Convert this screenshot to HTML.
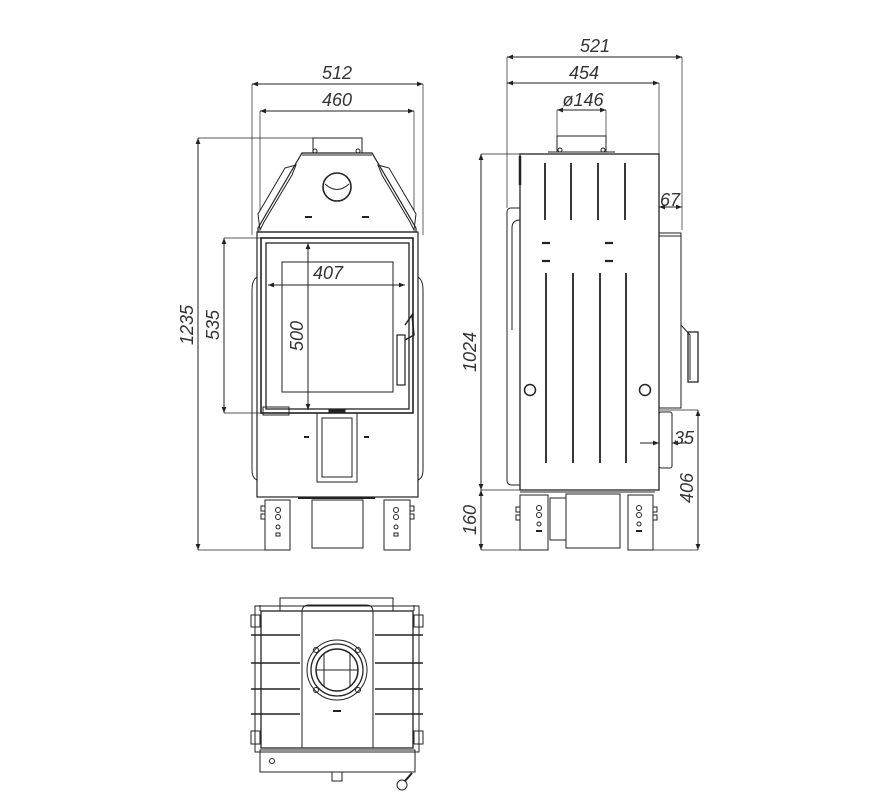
<!DOCTYPE html>
<html><head><meta charset="utf-8"><style>
html,body{margin:0;padding:0;background:#fff;}
svg{display:block;}
text{font-family:"Liberation Sans",sans-serif;font-style:italic;font-size:18px;fill:#333;}
</style></head><body>
<svg width="884" height="800" viewBox="0 0 884 800" xmlns="http://www.w3.org/2000/svg">
<defs>
<marker id="a" viewBox="0 0 10 10" refX="10" refY="5" markerWidth="10" markerHeight="6" orient="auto-start-reverse" markerUnits="userSpaceOnUse"><path d="M0,1 L10,5 L0,9 z" fill="#222"/></marker>
</defs>
<g stroke="#222" stroke-width="1" fill="none">
<line x1="252" y1="84" x2="252" y2="235" stroke-width="0.7"/>
<line x1="423" y1="84" x2="423" y2="235" stroke-width="0.7"/>
<line x1="260" y1="111" x2="260" y2="210" stroke-width="0.7"/>
<line x1="414" y1="111" x2="414" y2="210" stroke-width="0.7"/>
<line x1="252" y1="84" x2="423" y2="84" marker-start="url(#a)" marker-end="url(#a)"/>
<line x1="260" y1="111" x2="414" y2="111" marker-start="url(#a)" marker-end="url(#a)"/>
<line x1="198" y1="138" x2="313" y2="138" stroke-width="0.7"/>
<line x1="198" y1="550" x2="266" y2="550" stroke-width="0.7"/>
<line x1="198" y1="138" x2="198" y2="550" marker-start="url(#a)" marker-end="url(#a)"/>
<line x1="224" y1="238" x2="262" y2="238" stroke-width="0.7"/>
<line x1="224" y1="413" x2="262" y2="413" stroke-width="0.7"/>
<line x1="224" y1="238" x2="224" y2="413" marker-start="url(#a)" marker-end="url(#a)"/>
<line x1="268" y1="285" x2="405" y2="285" marker-start="url(#a)" marker-end="url(#a)"/>
<line x1="308" y1="243" x2="308" y2="410" marker-start="url(#a)" marker-end="url(#a)"/>
<polyline points="313,153 313,138 362,138 362,153"/>
<circle cx="315" cy="151" r="2"/><circle cx="358" cy="151" r="2"/>
<polygon points="302,153 372,153 416,228 416,232 258,232 258,228" stroke-width="1.2"/>
<line x1="302" y1="155" x2="372" y2="155"/>
<path d="M296,165 L285,168 L258,214 L260,230 L264,222 L292,175 Z"/>
<path d="M378,165 L389,168 L416,214 L414,230 L410,222 L382,175 Z"/>
<circle cx="337" cy="187" r="14" stroke-width="1.6"/>
<path d="M325,184 Q337,195 349,184"/>
<line x1="305" y1="217" x2="312" y2="217" stroke-width="2"/>
<line x1="362" y1="217" x2="369" y2="217" stroke-width="2"/>
<rect x="257" y="232" width="161" height="265" stroke-width="1.2"/>
<path d="M257,277 Q252,280 252,290 L252,470 Q252,478 257,480"/>
<path d="M418,277 Q423,280 423,290 L423,470 Q423,478 418,480"/>
<rect x="261" y="238" width="152" height="175" stroke-width="1.6"/>
<rect x="266" y="243" width="143" height="166" stroke-width="1.3"/>
<rect x="282" y="262" width="111" height="130"/>
<rect x="397" y="335" width="8" height="50" stroke-width="1.2"/>
<path d="M405,325 L412,315 L414,335 L405,340" stroke-width="1.5"/>
<rect x="263" y="407" width="26" height="8"/>
<rect x="329" y="410" width="16" height="3" fill="#222"/>
<rect x="317" y="413" width="40" height="69"/>
<rect x="322" y="418" width="30" height="59"/>
<line x1="304" y1="437" x2="309" y2="437" stroke-width="2"/>
<line x1="364" y1="437" x2="369" y2="437" stroke-width="2"/>
<line x1="298" y1="498" x2="375" y2="498" stroke-width="2"/>
<rect x="312" y="500" width="51" height="48"/>
<path d="M265,500 L290,500 L290,550 L265,550 Z"/>
<path d="M384,500 L410,500 L410,550 L384,550 Z"/>
<circle cx="278" cy="510" r="2.5"/><circle cx="278" cy="517" r="2.5"/><circle cx="278" cy="527" r="2"/>
<rect x="276" y="533" width="4" height="3"/>
<circle cx="396" cy="510" r="2.5"/><circle cx="396" cy="517" r="2.5"/><circle cx="396" cy="527" r="2"/>
<rect x="394" y="533" width="4" height="3"/>
<rect x="261" y="506" width="4" height="5"/><rect x="261" y="514" width="4" height="5"/>
<rect x="410" y="506" width="4" height="5"/><rect x="410" y="514" width="4" height="5"/>

<line x1="507" y1="57" x2="507" y2="208" stroke-width="0.7"/>
<line x1="682" y1="57" x2="682" y2="230" stroke-width="0.7"/>
<line x1="659" y1="83" x2="659" y2="154" stroke-width="0.7"/>
<line x1="507" y1="57" x2="682" y2="57" marker-start="url(#a)" marker-end="url(#a)"/>
<line x1="507" y1="83" x2="659" y2="83" marker-start="url(#a)" marker-end="url(#a)"/>
<line x1="557" y1="110" x2="606" y2="110" marker-start="url(#a)" marker-end="url(#a)"/>
<line x1="557" y1="110" x2="557" y2="136" stroke-width="0.7"/>
<line x1="606" y1="110" x2="606" y2="136" stroke-width="0.7"/>
<line x1="659" y1="207" x2="682" y2="207" marker-start="url(#a)" marker-end="url(#a)"/>
<line x1="481" y1="154" x2="520" y2="154" stroke-width="0.7"/>
<line x1="481" y1="490" x2="520" y2="490" stroke-width="0.7"/>
<line x1="481" y1="550" x2="525" y2="550" stroke-width="0.7"/>
<line x1="481" y1="154" x2="481" y2="490" marker-start="url(#a)" marker-end="url(#a)"/>
<line x1="481" y1="490" x2="481" y2="550" marker-start="url(#a)" marker-end="url(#a)"/>
<line x1="660" y1="410" x2="698" y2="410" stroke-width="0.7"/>
<line x1="653" y1="550" x2="698" y2="550" stroke-width="0.7"/>
<line x1="698" y1="410" x2="698" y2="550" marker-start="url(#a)" marker-end="url(#a)"/>
<line x1="640" y1="443" x2="659" y2="443" marker-end="url(#a)"/>
<line x1="690" y1="443" x2="672" y2="443" marker-end="url(#a)"/>
<rect x="557" y="136" width="49" height="16"/>
<line x1="548" y1="152" x2="615" y2="152"/>
<circle cx="560" cy="150" r="2"/><circle cx="603" cy="150" r="2"/>
<rect x="520" y="154" width="139" height="336" stroke-width="1.3"/>
<line x1="520" y1="156" x2="520" y2="185" stroke-width="2.5"/>
<path d="M520,208 L511,208 Q507,208 507,213 L507,480 Q507,485 512,485 L520,485"/>
<path d="M520,220 Q512,220 512,228 L512,330"/>
<g stroke-width="1.8">
<line x1="545" y1="163" x2="545" y2="220"/><line x1="571" y1="163" x2="571" y2="220"/>
<line x1="598" y1="163" x2="598" y2="220"/><line x1="625" y1="163" x2="625" y2="220"/>
<line x1="546" y1="273" x2="546" y2="463"/><line x1="573" y1="273" x2="573" y2="463"/>
<line x1="600" y1="273" x2="600" y2="463"/><line x1="626" y1="273" x2="626" y2="463"/>
</g>
<g stroke-width="2.2">
<line x1="542" y1="243" x2="550" y2="243"/><line x1="605" y1="243" x2="613" y2="243"/>
<line x1="542" y1="261" x2="550" y2="261"/><line x1="605" y1="261" x2="613" y2="261"/>
</g>
<circle cx="530" cy="390" r="5.5" stroke-width="1.5"/>
<circle cx="645" cy="390" r="5.5" stroke-width="1.5"/>
<rect x="659" y="233" width="22" height="175"/>
<line x1="659" y1="236" x2="681" y2="236"/>
<path d="M681,325 L690,335 L690,380"/>
<rect x="688" y="332" width="10" height="50" stroke-width="1.3"/>
<rect x="659" y="412" width="13" height="56" rx="2"/>
<line x1="520" y1="492" x2="655" y2="492"/>
<rect x="520" y="495" width="28" height="55"/>
<rect x="628" y="495" width="25" height="55"/>
<rect x="566" y="494" width="54" height="54"/>
<rect x="550" y="498" width="16" height="42"/>
<circle cx="539" cy="508" r="2.5"/><circle cx="539" cy="515" r="2.5"/><circle cx="539" cy="524" r="2"/>
<line x1="536" y1="531" x2="542" y2="531" stroke-width="2"/>
<circle cx="639" cy="508" r="2.5"/><circle cx="639" cy="515" r="2.5"/><circle cx="639" cy="524" r="2"/>
<line x1="636" y1="531" x2="642" y2="531" stroke-width="2"/>
<rect x="516" y="507" width="4" height="5"/><rect x="516" y="515" width="4" height="5"/>
<rect x="653" y="507" width="4" height="5"/><rect x="653" y="515" width="4" height="5"/>

<polyline points="280,611 280,598 393,598 393,611"/>
<line x1="260" y1="611" x2="260" y2="605"/><line x1="414" y1="611" x2="414" y2="605"/>
<rect x="261" y="611" width="152" height="137" stroke-width="1.3"/>
<rect x="255" y="606" width="164" height="146"/>
<path d="M302,748 L302,612 Q302,605 309,605 L366,605 Q373,605 373,612 L373,748"/>
<circle cx="337" cy="670" r="30"/>
<circle cx="337" cy="670" r="26" stroke-width="1.3"/>
<circle cx="337" cy="670" r="21" stroke-width="1.5"/>
<line x1="324" y1="654" x2="324" y2="686"/><line x1="350" y1="654" x2="350" y2="686"/>
<line x1="316" y1="670" x2="358" y2="670"/>
<circle cx="316" cy="650" r="2.5"/><circle cx="358" cy="650" r="2.5"/>
<circle cx="316" cy="690" r="2.5"/><circle cx="358" cy="690" r="2.5"/>
<line x1="333" y1="711" x2="341" y2="711" stroke-width="2"/>
<g stroke-width="1.6">
<line x1="251" y1="635" x2="300" y2="635"/><line x1="251" y1="663" x2="300" y2="663"/>
<line x1="251" y1="689" x2="300" y2="689"/><line x1="251" y1="714" x2="300" y2="714"/>
<line x1="375" y1="635" x2="423" y2="635"/><line x1="375" y1="663" x2="423" y2="663"/>
<line x1="375" y1="689" x2="423" y2="689"/><line x1="375" y1="714" x2="423" y2="714"/>
</g>
<rect x="251" y="615" width="9" height="12"/><rect x="251" y="731" width="9" height="13"/>
<rect x="414" y="615" width="9" height="12"/><rect x="414" y="731" width="9" height="13"/>
<rect x="260" y="750" width="155" height="22"/>
<circle cx="272" cy="761" r="2.5"/>
<rect x="332" y="772" width="10" height="9"/>
<circle cx="402" cy="785" r="5"/>
<line x1="405" y1="781" x2="412" y2="773" stroke-width="2"/>
</g>
<text x="337" y="79" text-anchor="middle">512</text>
<text x="337" y="106" text-anchor="middle">460</text>
<text x="328" y="279" text-anchor="middle">407</text>
<text transform="translate(193,325) rotate(-90)" text-anchor="middle">1235</text>
<text transform="translate(219,325) rotate(-90)" text-anchor="middle">535</text>
<text transform="translate(303,336) rotate(-90)" text-anchor="middle">500</text>
<text x="595" y="52" text-anchor="middle">521</text>
<text x="584" y="79" text-anchor="middle">454</text>
<text x="583" y="106" text-anchor="middle">ø146</text>
<text x="670" y="206" text-anchor="middle">67</text>
<text x="684" y="444" text-anchor="middle">35</text>
<text transform="translate(476,352) rotate(-90)" text-anchor="middle">1024</text>
<text transform="translate(476,520) rotate(-90)" text-anchor="middle">160</text>
<text transform="translate(693,488) rotate(-90)" text-anchor="middle">406</text>
</svg>
</body></html>
